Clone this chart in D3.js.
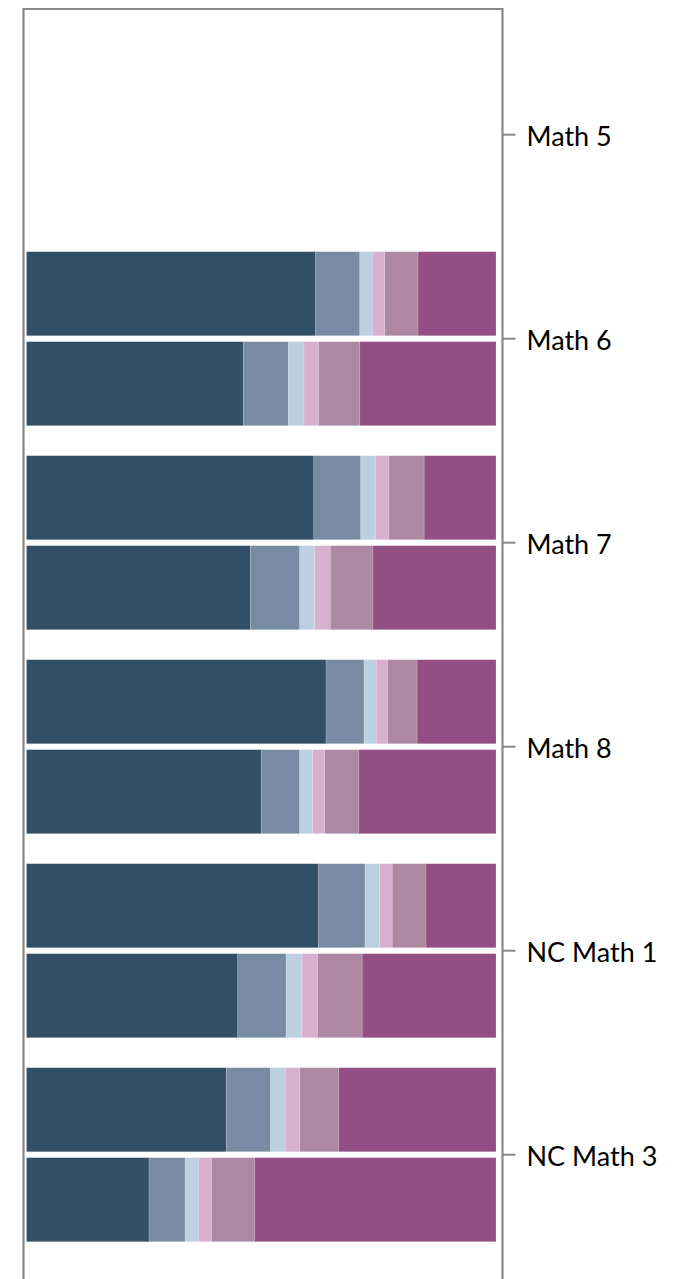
<!DOCTYPE html>
<html>
<head>
<meta charset="utf-8">
<script src="https://cdn.jsdelivr.net/npm/d3@7"></script>
<style>
  html, body { margin: 0; padding: 0; background: #fff; }
  svg { display: block; }
</style>
</head>
<body>
<svg id="chart" width="697" height="1279"></svg>
<script>
// ---- DATA ----
const categories = ["Math 5", "Math 6", "Math 7", "Math 8", "NC Math 1", "NC Math 3"];
const rows = ["first", "second"];
const seriesNames = ["Level 1", "Level 2", "Level 3", "Level 4", "Level 5", "Level 6"];
const seriesColors = ["#334f67", "#778ca2", "#bdd0e2", "#d9afcf", "#ae88a3", "#934f84"];

// values (percent) per category, first bar of each pair; null = no bar
const firstLevel1 = [null, 61.6, 61.2, 63.8, 62.2, 42.6];
const firstLevel2 = [null, 9.4, 10.0, 8.1, 9.9, 9.4];
const firstLevel3 = [null, 2.8, 3.1, 2.6, 3.1, 3.1];
const firstLevel4 = [null, 2.5, 2.9, 2.4, 2.7, 3.1];
const firstLevel5 = [null, 7.1, 7.5, 6.3, 7.2, 8.3];
const firstLevel6 = [null, 16.6, 15.3, 16.8, 14.9, 33.5];

// second bar of each pair
const secondLevel1 = [null, 46.2, 47.7, 50.0, 45.0, 26.1];
const secondLevel2 = [null, 9.6, 10.5, 8.2, 10.3, 7.7];
const secondLevel3 = [null, 3.3, 3.2, 2.7, 3.4, 2.8];
const secondLevel4 = [null, 3.1, 3.3, 2.6, 3.3, 2.8];
const secondLevel5 = [null, 8.8, 9.1, 7.3, 9.5, 9.2];
const secondLevel6 = [null, 29.0, 26.2, 29.2, 28.5, 51.4];

const xTicks = [0, 100];

// ---- BUILD TABLE ----
const firstSeries = [firstLevel1, firstLevel2, firstLevel3, firstLevel4, firstLevel5, firstLevel6];
const secondSeries = [secondLevel1, secondLevel2, secondLevel3, secondLevel4, secondLevel5, secondLevel6];

const table = [];
categories.forEach((c, i) => {
  [firstSeries, secondSeries].forEach((ser, r) => {
    if (ser[0][i] == null) return;
    const rec = { category: c, row: rows[r] };
    seriesNames.forEach((s, k) => rec[s] = ser[k][i]);
    table.push(rec);
  });
});

const stacked = d3.stack().keys(seriesNames)(table);

// ---- LAYOUT ----
const svg = d3.select("#chart");
const W = 697, H = 1279;
const frameLeft = 23.5, frameRight = 502.5, frameTop = 9;

const y = d3.scaleBand().domain(categories).range([17.7, 1271.7]).paddingInner(0.147).paddingOuter(0.147);
const yRow = d3.scaleBand().domain(rows).range([0, y.bandwidth()]).paddingInner(0.066);
const x = d3.scaleLinear().domain([xTicks[0], xTicks[1]]).range([26.5, 496]);
const color = d3.scaleOrdinal().domain(seriesNames).range(seriesColors);

// bars
const g = svg.append("g");
g.selectAll("g.series")
  .data(stacked)
  .join("g")
  .attr("class", "series")
  .attr("fill", d => color(d.key))
  .selectAll("rect")
  .data(d => d)
  .join("rect")
  .attr("x", d => x(d[0]))
  .attr("width", d => x(d[1]) - x(d[0]))
  .attr("y", d => y(d.data.category) + yRow(d.data.row))
  .attr("height", yRow.bandwidth())
  .attr("stroke", "#ffffff")
  .attr("stroke-opacity", 0.25)
  .attr("stroke-width", 0.6);

// frame lines
const axisColor = "#888888";
svg.append("line")
  .attr("x1", frameLeft).attr("x2", frameRight).attr("y1", frameTop).attr("y2", frameTop)
  .attr("stroke", axisColor).attr("stroke-width", 2.2);
svg.append("line")
  .attr("x1", frameLeft).attr("x2", frameLeft).attr("y1", frameTop - 1).attr("y2", H)
  .attr("stroke", axisColor).attr("stroke-width", 2.2);

// right axis with category labels
const yAxis = d3.axisRight(y).tickSize(13).tickPadding(11);
const ax = svg.append("g")
  .attr("transform", `translate(${frameRight},0)`)
  .call(yAxis);
ax.select(".domain").remove();
ax.append("line")
  .attr("x1", 0).attr("x2", 0).attr("y1", frameTop - 1).attr("y2", H)
  .attr("stroke", axisColor).attr("stroke-width", 2.2);
ax.selectAll(".tick line").attr("stroke", axisColor).attr("stroke-width", 2);
ax.selectAll(".tick text")
  .attr("fill", "#000")
  .attr("dy", "0.42em")
  .style("font-family", "Lato, 'Open Sans', sans-serif")
  .style("font-size", "27px");
</script>
</body>
</html>
